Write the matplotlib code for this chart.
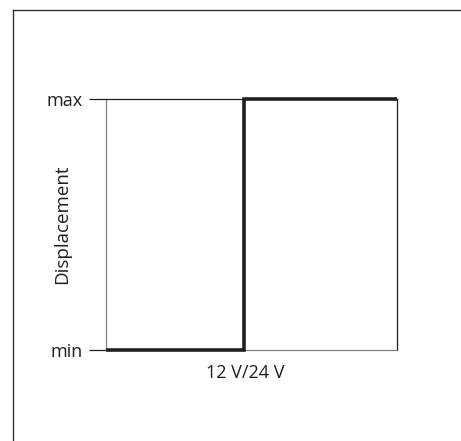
import matplotlib.pyplot as plt
from matplotlib.lines import Line2D

# switching characteristic: displacement jumps from min to max at the supply voltage
x_pos = [0.0, 0.475, 1.0]
disp = [0, 1, 1]
y_ticks = [0, 1]
y_labels = ['min', 'max']

plt.rcParams['font.family'] = ['Open Sans', 'DejaVu Sans']

fig = plt.figure(figsize=(4.61, 4.41), dpi=100)
ax = fig.add_axes([0.2299, 0.2063, 0.6312, 0.5692])

ax.step(x_pos, disp, where='post', color='#231f20', lw=2.6, solid_capstyle='butt',
        solid_joinstyle='miter', clip_on=False, zorder=3)

ax.set_xlim(0, 1)
ax.set_ylim(0, 1)
ax.set_xticks([])
ax.set_yticks(y_ticks)
ax.set_yticklabels(y_labels, fontsize=13, color='#231f20')
ax.tick_params(axis='y', length=12, width=0.9, color='#231f20', pad=5)

for side in ['top', 'right']:
    ax.spines[side].set_color('#231f20')
    ax.spines[side].set_linewidth(0.9)
for side in ['left', 'bottom']:
    ax.spines[side].set_color('#808080')
    ax.spines[side].set_linewidth(0.9)

ax.set_ylabel('Displacement', fontsize=13.5, color='#231f20')
ax.yaxis.set_label_coords(-0.12, 0.5)
ax.set_xlabel('12 V/24 V', fontsize=13, color='#231f20')
ax.xaxis.set_label_coords(0.477, -0.055)

# frame around the drawing
fig.add_artist(Line2D([0.0282, 1.0], [0.9773, 0.9773], color='#333333', lw=1.0))
fig.add_artist(Line2D([0.0282, 0.0282], [0.0, 0.9773], color='#333333', lw=1.0))

fig.savefig('out.png', dpi=100)
